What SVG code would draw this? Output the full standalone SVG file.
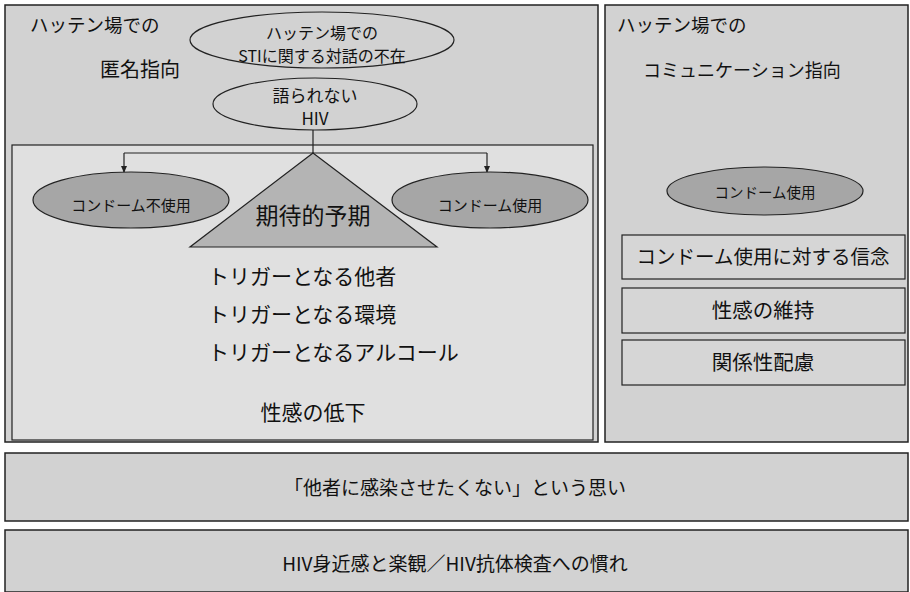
<svg xmlns="http://www.w3.org/2000/svg" width="910" height="592" viewBox="0 0 910 592">
<style>
text{font-family:"Noto Sans CJK JP","Liberation Sans",sans-serif;fill:#111}
.panel{fill:#d2d2d2;stroke:#222;stroke-width:1.5}
.inner{fill:#e0e0e0;stroke:#222;stroke-width:1.2}
.ell{fill:#d2d2d2;stroke:#222;stroke-width:1.2}
.dark{fill:#a6a6a6;stroke:#222;stroke-width:1.2}
.rbox{fill:#d6d6d6;stroke:#222;stroke-width:1.2}
.c{text-anchor:middle}
.line{stroke:#222;stroke-width:1.2;fill:none}
</style>
<defs>
<marker id="arr" markerWidth="8" markerHeight="8" refX="6" refY="4" orient="auto" markerUnits="userSpaceOnUse">
<path d="M0,1 L7,4 L0,7 Z" fill="#222"/>
</marker>
</defs>
<rect width="910" height="592" fill="#ffffff"/>
<g id="left-panel">
<rect class="panel" x="5" y="5" width="593" height="437"/>
<text x="30" y="32" font-size="18.5">ハッテン場での</text>
<text x="100" y="77" font-size="20">匿名指向</text>
</g>
<g id="inner-box">
<rect class="inner" x="12" y="145" width="581" height="295"/>
<text x="208" y="284" font-size="21">トリガーとなる他者</text>
<text x="208" y="322" font-size="21">トリガーとなる環境</text>
<text x="208" y="360" font-size="21">トリガーとなるアルコール</text>
<text x="313" y="420" font-size="21" class="c">性感の低下</text>
</g>
<g id="right-panel">
<rect class="panel" x="605" y="5" width="303" height="437"/>
<text x="617" y="32" font-size="18.5">ハッテン場での</text>
<text x="643" y="77" font-size="18">コミュニケーション指向</text>
</g>
<g id="connectors">
<line class="line" x1="313" y1="130" x2="313" y2="153"/>
<line class="line" x1="124" y1="153" x2="487" y2="153"/>
<line class="line" x1="124" y1="153" x2="124" y2="172" marker-end="url(#arr)"/>
<line class="line" x1="487" y1="153" x2="487" y2="172" marker-end="url(#arr)"/>
</g>
<g id="node-sti">
<ellipse class="ell" cx="322" cy="40" rx="132" ry="28"/>
<text x="322" y="39" font-size="16" class="c">ハッテン場での</text>
<text x="322" y="62" font-size="16" class="c">STIに関する対話の不在</text>
</g>
<g id="node-hiv">
<ellipse class="ell" cx="315" cy="104" rx="102" ry="26"/>
<text x="315" y="102" font-size="17" class="c">語られない</text>
<text x="315" y="125" font-size="17" class="c">HIV</text>
</g>
<g id="node-triangle">
<polygon points="313,153 190,247 437,247" fill="#b4b4b4" stroke="#222" stroke-width="1.2"/>
<text x="313" y="224" font-size="23" class="c">期待的予期</text>
</g>
<g id="node-nouse">
<ellipse class="dark" cx="131" cy="200" rx="98" ry="28"/>
<text x="131" y="211" font-size="15" class="c">コンドーム不使用</text>
</g>
<g id="node-use">
<ellipse class="dark" cx="490" cy="200" rx="98" ry="28"/>
<text x="490" y="211" font-size="15" class="c">コンドーム使用</text>
</g>
<g id="node-use-right">
<ellipse class="dark" cx="765" cy="191" rx="98" ry="24"/>
<text x="765" y="198" font-size="14.5" class="c">コンドーム使用</text>
</g>
<g id="box-belief">
<rect class="rbox" x="622" y="235" width="283" height="44"/>
<text x="763" y="264" font-size="19.5" class="c">コンドーム使用に対する信念</text>
</g>
<g id="box-keep">
<rect class="rbox" x="622" y="288" width="283" height="45"/>
<text x="763" y="318" font-size="20.5" class="c">性感の維持</text>
</g>
<g id="box-relation">
<rect class="rbox" x="622" y="340" width="283" height="45"/>
<text x="763" y="370" font-size="20.5" class="c">関係性配慮</text>
</g>
<g id="box-infect">
<rect class="panel" x="5" y="453" width="903" height="68"/>
<text x="455" y="495" font-size="19" class="c">「他者に感染させたくない」という思い</text>
</g>
<g id="box-hivtest">
<rect class="panel" x="5" y="530" width="903" height="62"/>
<text x="455" y="571" font-size="19" class="c">HIV身近感と楽観／HIV抗体検査への慣れ</text>
</g>
</svg>
